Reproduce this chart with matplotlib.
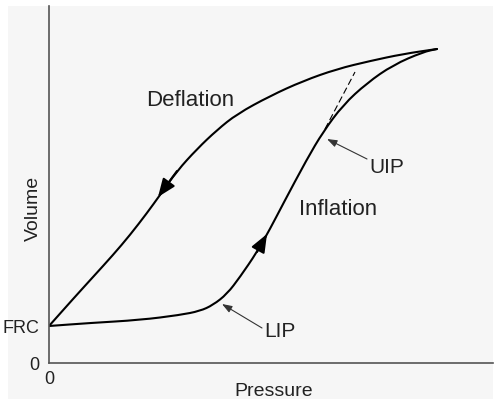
import matplotlib
matplotlib.use("Agg")
import matplotlib.pyplot as plt
from matplotlib.patches import Rectangle, PathPatch
from matplotlib.path import Path

# Data (arbitrary units: pressure on x, volume on y)
frc = 37
defl_p = [0, 24, 44, 64, 81, 98, 111, 128, 148, 168, 188, 221, 254, 288, 321, 354, 388]
defl_v = [37, 64, 86, 108, 128, 150, 168, 192, 214, 233, 249, 267, 282, 294, 302, 309, 314]
infl_p = [0, 41, 91, 131, 151, 164, 178, 191, 208, 221, 234, 258, 274, 294, 318, 344, 374, 388]
infl_v = [37, 40, 43, 48, 52, 58, 69, 86, 111, 134, 159, 204, 231, 258, 280, 298, 311, 314]
tangent_p = [276, 306]
tangent_v = [234, 291]
# direction arrows on the curves (tail, tip)
defl_arrow = [(128, 192), (109, 166)]
infl_arrow = [(208, 111), (218, 129)]
# labelled points (tip, tail, text position)
uip = [(278, 224), (318, 204), (338, 196)]
lip = [(173, 59), (213, 35), (231, 32)]
ytick_vals = [0, frc]
ytick_labels = ["0", "FRC"]
xtick_vals = [0]
xtick_labels = ["0"]

FONT = "Liberation Sans"
plt.rcParams["font.family"] = [FONT, "DejaVu Sans"]


def smooth_path(xs, ys):
    """Quadratic B-spline style path: data points act as control points."""
    pts = list(zip(xs, ys))
    verts = [pts[0]]
    codes = [Path.MOVETO]
    mid = lambda a, b: ((a[0] + b[0]) / 2, (a[1] + b[1]) / 2)
    verts.append(mid(pts[0], pts[1]))
    codes.append(Path.LINETO)
    for i in range(1, len(pts) - 1):
        verts += [pts[i], mid(pts[i], pts[i + 1])]
        codes += [Path.CURVE3, Path.CURVE3]
    verts.append(pts[-1])
    codes.append(Path.LINETO)
    return Path(verts, codes)


fig = plt.figure(figsize=(5.0, 4.1), dpi=100)
fig.patch.set_facecolor("white")
fig.patches.append(Rectangle((8 / 500, 10 / 410), 485 / 500, 393 / 410,
                             transform=fig.transFigure, facecolor="#f6f6f6",
                             edgecolor="none", zorder=-10))
ax = fig.add_axes([49 / 500, 46 / 410, 444 / 500, 357 / 410])
ax.set_facecolor("none")
ax.set_xlim(0, 444)
ax.set_ylim(0, 357)

for xs, ys in ((defl_p, defl_v), (infl_p, infl_v)):
    ax.add_patch(PathPatch(smooth_path(xs, ys), facecolor="none", edgecolor="black",
                           lw=1.5, capstyle="round", joinstyle="round"))
ax.plot(tangent_p, tangent_v, color="black", lw=0.8, dashes=(6, 3))

for tail, tip in (defl_arrow, infl_arrow):
    ax.annotate("", xy=tip, xytext=tail,
                arrowprops=dict(arrowstyle="-|>,head_length=0.55,head_width=0.22",
                                mutation_scale=20, color="black", lw=1.5,
                                shrinkA=0, shrinkB=0))

for (tip, tail, tpos), name in ((uip, "UIP"), (lip, "LIP")):
    ax.annotate("", xy=tip, xytext=tail,
                arrowprops=dict(arrowstyle="-|>,head_length=0.5,head_width=0.18",
                                mutation_scale=12, color="#333333", lw=0.8,
                                shrinkA=0, shrinkB=0))
    ax.text(tpos[0], tpos[1], name, ha="center", va="center", fontsize=15, color="#222222")

ax.text(141, 264, "Deflation", ha="center", va="center", fontsize=16, color="#222222")
ax.text(289, 154, "Inflation", ha="center", va="center", fontsize=16, color="#222222")

for s in ("top", "right"):
    ax.spines[s].set_visible(False)
for s in ("left", "bottom"):
    ax.spines[s].set_color("#555555")
    ax.spines[s].set_linewidth(1.2)

ax.set_yticks(ytick_vals)
ax.set_yticklabels(ytick_labels)
ax.set_xticks(xtick_vals)
ax.set_xticklabels(xtick_labels)
ax.tick_params(axis="y", length=0, pad=7, labelsize=13, labelcolor="#222222")
ax.tick_params(axis="x", length=0, pad=5, labelsize=13, labelcolor="#222222")

ax.set_ylabel("Volume", fontsize=14, color="#222222")
ax.set_xlabel("Pressure", fontsize=14, color="#222222")
ax.yaxis.set_label_coords(-0.015, 0.437)
ax.xaxis.set_label_coords(0.505, -0.053)

fig.savefig("out.png", dpi=100, facecolor=fig.get_facecolor())
